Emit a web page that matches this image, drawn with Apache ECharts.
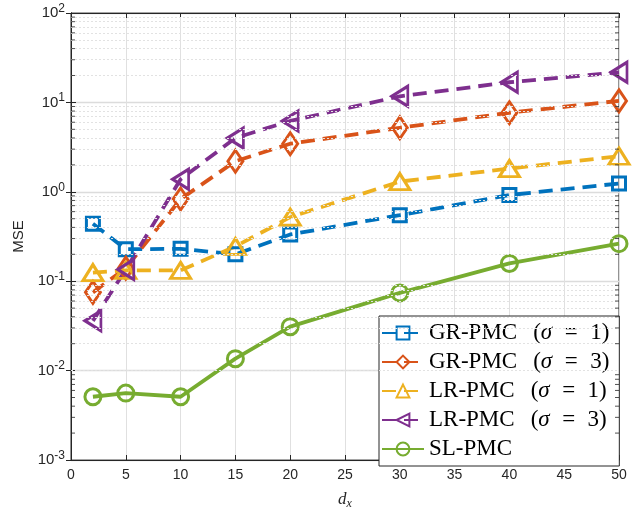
<!DOCTYPE html>
<html>
<head>
<meta charset="utf-8">
<script src="https://cdn.jsdelivr.net/npm/echarts@6/dist/echarts.min.js"></script>
<style>html,body{margin:0;padding:0;background:#fff}#c{width:644px;height:515px}</style>
</head>
<body>
<div id="c"></div>
<script>
// ---- data ----
var dx = [2, 5, 10, 15, 20, 30, 40, 50];
var grPmc1 = [0.44, 0.228, 0.23, 0.2, 0.333, 0.548, 0.92, 1.24];
var grPmc3 = [0.075, 0.14, 0.83, 2.2, 3.45, 5.2, 7.66, 10.4];
var lrPmc1 = [0.125, 0.132, 0.132, 0.245, 0.52, 1.3, 1.82, 2.5];
var lrPmc3 = [0.036, 0.135, 1.38, 4.0, 6.2, 11.7, 16.8, 21.7];
var slPmc = [0.0051, 0.0056, 0.0051, 0.0136, 0.031, 0.074, 0.158, 0.263];
var xTicks = [0, 5, 10, 15, 20, 25, 30, 35, 40, 45, 50];
var yDecades = [0.001, 0.01, 0.1, 1, 10, 100];
var minorMantissa = [2, 3, 4, 5, 6, 7, 8, 9];
var seriesNames = ['GR-PMC (σ = 1)', 'GR-PMC (σ = 3)', 'LR-PMC (σ = 1)', 'LR-PMC (σ = 3)', 'SL-PMC'];

var minorVals = [];
for (var d = 0; d < yDecades.length - 1; d++) {
  for (var m = 0; m < minorMantissa.length; m++) minorVals.push(minorMantissa[m] * yDecades[d]);
}
function pairs(ys) { return dx.map(function (x, i) { return [x, ys[i]]; }); }

var TXT = '#262626';
var chart = echarts.init(document.getElementById('c'), null, {renderer: 'canvas'});
var dashed = [14, 8];
function lineSeries(name, data, color, symbol, size, rotate, dash) {
  return {
    name: name, type: 'line', data: pairs(data), xAxisIndex: 0, yAxisIndex: 0,
    symbol: symbol, symbolSize: size, symbolRotate: rotate || 0, showSymbol: true,
    lineStyle: {color: color, width: 3.8, type: dash ? dashed : 'solid'},
    itemStyle: {color: 'rgba(255,255,255,0)', borderColor: color, borderWidth: 3},
    emphasis: {disabled: true}, animation: false, z: 3
  };
}
var series = [
  lineSeries(seriesNames[0], grPmc1, '#0072BD', 'rect', 13, 0, true),
  lineSeries(seriesNames[1], grPmc3, '#D95319', 'diamond', [15, 22], 0, true),
  lineSeries(seriesNames[2], lrPmc1, '#EDB120', 'triangle', [20, 16], 0, true),
  lineSeries(seriesNames[3], lrPmc3, '#7E2F8E', 'triangle', [20, 16], 90, true),
  lineSeries(seriesNames[4], slPmc, '#77AC30', 'circle', 16, 0, false)
];
// minor grid lines (dotted) through the log axis
series.push({
  type: 'line', data: [], silent: true, animation: false,
  markLine: {
    silent: true, symbol: ['none', 'none'], label: {show: false}, animation: false,
    lineStyle: {color: '#e2e2e2', type: [2, 2], width: 1},
    data: minorVals.map(function (v) { return {yAxis: v}; })
  }
});
// minor ticks on left and right edges
series.push({
  type: 'scatter', silent: true, animation: false, symbol: 'rect', symbolSize: [4, 1],
  symbolOffset: [2, 0], itemStyle: {color: TXT}, z: 5,
  data: minorVals.map(function (v) { return [0, v]; })
});
series.push({
  type: 'scatter', silent: true, animation: false, symbol: 'rect', symbolSize: [4, 1],
  symbolOffset: [-2, 0], itemStyle: {color: TXT}, z: 5,
  data: minorVals.map(function (v) { return [50, v]; })
});

var SERIF = 'Liberation Serif';
var LFS = 23;
var legendRich = {
  t: {fontFamily: SERIF, fontSize: LFS, color: '#000'},
  p: {fontFamily: SERIF, fontSize: LFS, color: '#000', padding: [0, 0, 0, 16]},
  i: {fontFamily: SERIF, fontStyle: 'italic', fontSize: LFS, color: '#000'},
  e: {fontFamily: SERIF, fontSize: LFS, color: '#000', padding: [0, 12.5, 0, 12.5]}
};
chart.setOption({
  backgroundColor: '#fff',
  animation: false,
  grid: {left: 71, right: 25, top: 13, bottom: 48, show: true, borderColor: TXT, borderWidth: 1, backgroundColor: 'transparent'},
  xAxis: [{
    type: 'value', min: 0, max: 50, interval: 5, position: 'bottom',
    name: '{d|d}{s|x}', nameLocation: 'middle', nameGap: 30,
    nameTextStyle: {rich: {d: {fontFamily: SERIF, fontStyle: 'italic', fontSize: 17, color: TXT},
      s: {fontFamily: SERIF, fontStyle: 'italic', fontSize: 12, color: TXT, verticalAlign: 'bottom', padding: [8, 0, 0, 0]}}},
    axisLine: {show: true, lineStyle: {color: TXT}},
    axisTick: {show: true, inside: true, length: 5, lineStyle: {color: TXT}},
    axisLabel: {color: TXT, fontFamily: 'Liberation Sans', fontSize: 14, margin: 8,
      customValues: xTicks},
    splitLine: {show: true, lineStyle: {color: '#e0e0e0', width: 1}}
  }, {
    type: 'value', min: 0, max: 50, interval: 5, position: 'top',
    axisLine: {show: true, lineStyle: {color: TXT}},
    axisTick: {show: true, inside: true, length: 5, lineStyle: {color: TXT}},
    axisLabel: {show: false}, splitLine: {show: false}
  }],
  yAxis: [{
    type: 'log', logBase: 10, min: 0.001, max: 100, position: 'left',
    name: 'MSE', nameLocation: 'middle', nameGap: 44,
    nameTextStyle: {color: TXT, fontFamily: 'Liberation Sans', fontSize: 15},
    axisLine: {show: true, lineStyle: {color: TXT}},
    axisTick: {show: true, inside: true, length: 5, lineStyle: {color: TXT}},
    axisLabel: {color: TXT, fontFamily: 'Liberation Sans', fontSize: 15, margin: 6,
      formatter: function (v) { return '10{s|' + Math.round(Math.log10(v)) + '}'; },
      rich: {s: {fontFamily: 'Liberation Sans', fontSize: 12, color: TXT, verticalAlign: 'top', padding: [0, 0, 9, 0]}}},
    splitLine: {show: true, lineStyle: {color: '#dcdcdc', width: 1.3}}
  }, {
    type: 'log', logBase: 10, min: 0.001, max: 100, position: 'right',
    axisLine: {show: true, lineStyle: {color: TXT}},
    axisTick: {show: true, inside: true, length: 5, lineStyle: {color: TXT}},
    axisLabel: {show: false}, splitLine: {show: false}
  }],
  legend: {
    data: seriesNames, orient: 'vertical', left: 379, top: 316,
    backgroundColor: '#fff', borderColor: TXT, borderWidth: 1, borderRadius: 0,
    padding: [5, 10, 5, 2], itemGap: 5, itemWidth: 42, itemHeight: 16,
    textStyle: {fontFamily: SERIF, fontSize: LFS, color: '#000', lineHeight: 24, rich: legendRich},
    formatter: function (n) {
      var m = /^(.*) \(σ = (\d)\)$/.exec(n);
      if (!m) return '{t|' + n + '}';
      return '{t|' + m[1] + '}{p|(}{i|σ}{e|=}{t|' + m[2] + ')}';
    },
    selectedMode: false
  },
  series: series
});
</script>
</body>
</html>
